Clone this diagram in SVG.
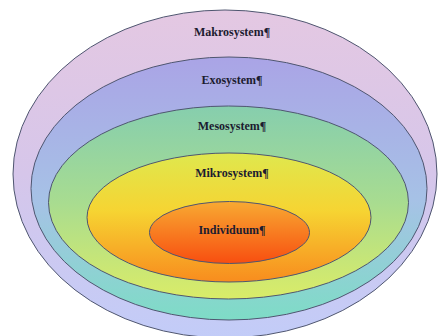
<svg xmlns="http://www.w3.org/2000/svg" width="438" height="336" viewBox="0 0 438 336">
<style>
.ring{stroke:#4f5670;stroke-width:1}
.lbl{font-family:"Liberation Serif","Times New Roman",serif;font-weight:bold;font-size:12px;text-anchor:middle;fill:#1c1c30}
</style>
<defs>
<linearGradient id="gMakro" x1="0" y1="0" x2="0" y2="1">
<stop offset="0" stop-color="#e4c8e2"/><stop offset="0.5" stop-color="#d6c6ea"/><stop offset="1" stop-color="#c2ccf8"/>
</linearGradient>
<linearGradient id="gExo" x1="0" y1="0" x2="0" y2="1">
<stop offset="0" stop-color="#aaa4e6"/><stop offset="0.55" stop-color="#a6c2e6"/><stop offset="1" stop-color="#7edcc6"/>
</linearGradient>
<linearGradient id="gMeso" x1="0" y1="0" x2="0" y2="1">
<stop offset="0" stop-color="#86ceae"/><stop offset="0.5" stop-color="#a8dc90"/><stop offset="1" stop-color="#daec68"/>
</linearGradient>
<linearGradient id="gMikro" x1="0" y1="0" x2="0" y2="1">
<stop offset="0" stop-color="#dfe84e"/><stop offset="0.45" stop-color="#f6d432"/><stop offset="1" stop-color="#f88c1e"/>
</linearGradient>
<linearGradient id="gInd" x1="0" y1="0" x2="0" y2="1">
<stop offset="0" stop-color="#f8aa32"/><stop offset="1" stop-color="#f84e10"/>
</linearGradient>
</defs>
<rect width="438" height="336" fill="#ffffff"/>
<g id="makrosystem">
<ellipse class="ring" cx="225" cy="174" rx="212" ry="164" fill="url(#gMakro)"/>
<text class="lbl" x="232" y="36">Makrosystem¶</text>
</g>
<g id="exosystem">
<ellipse class="ring" cx="229" cy="188.5" rx="198" ry="131.5" fill="url(#gExo)"/>
<text class="lbl" x="232" y="84">Exosystem¶</text>
</g>
<g id="mesosystem">
<ellipse class="ring" cx="228.5" cy="202.5" rx="180" ry="96.5" fill="url(#gMeso)"/>
<text class="lbl" x="232" y="130">Mesosystem¶</text>
</g>
<g id="mikrosystem">
<ellipse class="ring" cx="229" cy="217.5" rx="142" ry="64.5" fill="url(#gMikro)"/>
<text class="lbl" x="232" y="177">Mikrosystem¶</text>
</g>
<g id="individuum">
<ellipse class="ring" cx="229.5" cy="232.5" rx="80" ry="31" fill="url(#gInd)"/>
<text class="lbl" x="232" y="234">Individuum¶</text>
</g>
<g id="connectors"/>
</svg>
